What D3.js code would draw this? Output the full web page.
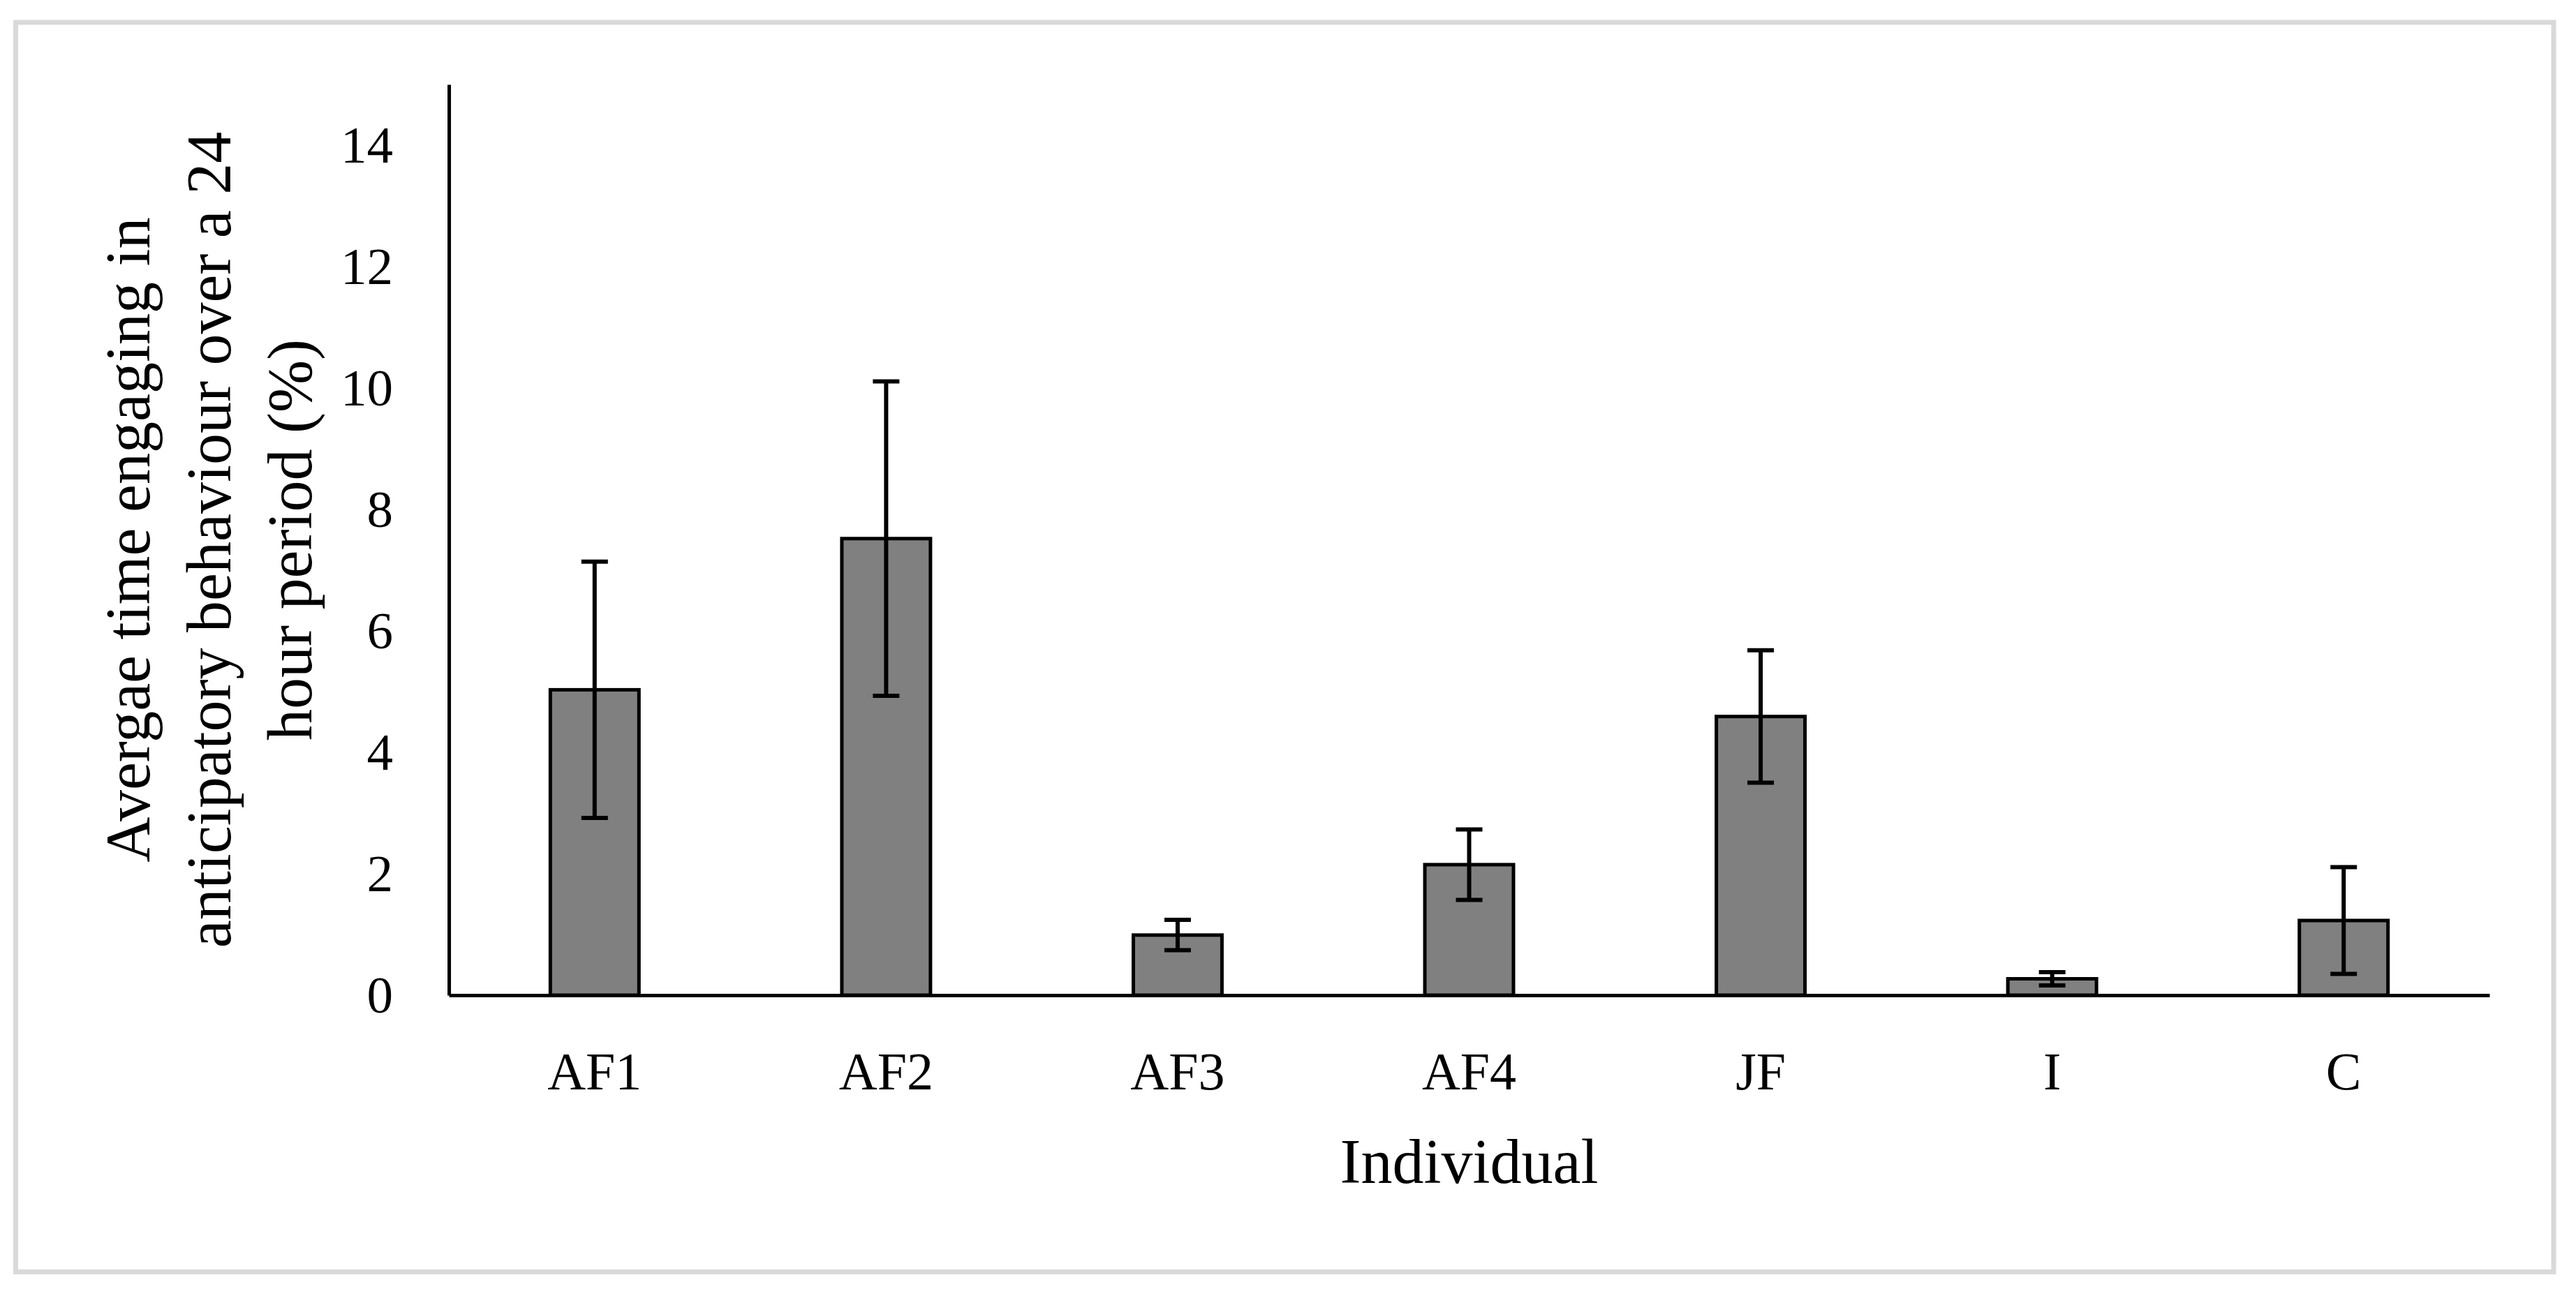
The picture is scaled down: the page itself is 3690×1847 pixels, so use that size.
<!DOCTYPE html>
<html>
<head>
<meta charset="utf-8">
<script src="https://cdn.jsdelivr.net/npm/d3@7"></script>
<style>
body { margin: 0; background: #ffffff; }
text { font-family: "Liberation Serif", "Times New Roman", serif; fill: #000000; }
</style>
</head>
<body>
<div class="chart-container"></div>
<script>
//bar chart with error bars, one bar per individual

var individuals = ["AF1", "AF2", "AF3", "AF4", "JF", "I", "C"]
var meanTime = [5.03, 7.52, 0.99, 2.15, 4.59, 0.27, 1.23]
var errTime = [2.11, 2.59, 0.25, 0.58, 1.09, 0.11, 0.88]
var yTicks = [0, 2, 4, 6, 8, 10, 12, 14]
var yTitleLines = ["Avergae time engaging in", "anticipatory behaviour over a 24", "hour period (%)"]
var xTitle = "Individual"

var totalWidth = 3690
var totalHeight = 1847

var margins = {
top: 121,
bottom: 1847 - 1426,
left: 643,
right: 3690 - 3566
}

var width = totalWidth - margins.left - margins.right
var height = totalHeight - margins.top - margins.bottom

var chart = d3.select(".chart-container")
.append("svg")
.attr("width", totalWidth)
.attr("height", totalHeight)

//grey frame round the figure
chart.append("rect")
.attr("x", 22.5)
.attr("y", 32)
.attr("width", 3658 - 22.5)
.attr("height", 1822.5 - 32)
.attr("fill", "#ffffff")
.attr("stroke", "#d9d9d9")
.attr("stroke-width", 7)

var g = chart.append("g")
.attr("transform", "translate(" + margins.left + "," + margins.top + ")")

var data = individuals.map(function(d, i){
return {name: d, mean: meanTime[i], err: errTime[i]}
})

var xScale = d3.scaleBand()
.domain(individuals)
.range([0, width])
.paddingInner(0.684)
.paddingOuter(0.342)

var yScale = d3.scaleLinear().domain([0, 15]).range([height, 0])

//bars
var bw = xScale.bandwidth()
g.selectAll("rect.bar")
.data(data)
.enter()
.append("rect")
.attr("class", "bar")
.attr("x", function(d){return xScale(d.name) + 2.5})
.attr("y", function(d){return yScale(d.mean)})
.attr("width", bw - 5)
.attr("height", function(d){return yScale(0) - yScale(d.mean)})
.attr("fill", "#808080")
.attr("stroke", "#000000")
.attr("stroke-width", 5)

//error bars
var capW = 38
var errG = g.selectAll("g.err")
.data(data)
.enter()
.append("g")
.attr("class", "err")
.attr("stroke", "#000000")
.attr("stroke-width", 6)

errG.append("line")
.attr("x1", function(d){return xScale(d.name) + bw / 2})
.attr("x2", function(d){return xScale(d.name) + bw / 2})
.attr("y1", function(d){return yScale(d.mean + d.err)})
.attr("y2", function(d){return yScale(d.mean - d.err)})

errG.append("line")
.attr("x1", function(d){return xScale(d.name) + bw / 2 - capW / 2})
.attr("x2", function(d){return xScale(d.name) + bw / 2 + capW / 2})
.attr("y1", function(d){return yScale(d.mean + d.err)})
.attr("y2", function(d){return yScale(d.mean + d.err)})

errG.append("line")
.attr("x1", function(d){return xScale(d.name) + bw / 2 - capW / 2})
.attr("x2", function(d){return xScale(d.name) + bw / 2 + capW / 2})
.attr("y1", function(d){return yScale(d.mean - d.err)})
.attr("y2", function(d){return yScale(d.mean - d.err)})

//axes
var yAxis = d3.axisLeft(yScale).tickValues(yTicks).tickSize(0).tickSizeOuter(0).tickPadding(80)
var xAxis = d3.axisBottom(xScale).tickSize(0).tickSizeOuter(0).tickPadding(81)

var yG = g.append("g").call(yAxis)
yG.select(".domain").attr("stroke", "#000000").attr("stroke-width", 5)
yG.selectAll("text").attr("font-size", 75).attr("font-family", "Liberation Serif").attr("fill", "#000000")

var xG = g.append("g")
.attr("transform", "translate(0," + height + ")")
.call(xAxis)
xG.select(".domain").attr("stroke", "#000000").attr("stroke-width", 5)
xG.selectAll("text").attr("font-size", 76).attr("font-family", "Liberation Serif").attr("fill", "#000000")

//axis titles
chart.append("text")
.attr("x", margins.left + width / 2)
.attr("y", 1695)
.attr("text-anchor", "middle")
.attr("font-size", 90)
.text(xTitle)

var yTitle = chart.append("text")
.attr("transform", "translate(214," + (margins.top + height / 2) + ") rotate(-90)")
.attr("text-anchor", "middle")
.attr("font-size", 90)

yTitle.selectAll("tspan")
.data(yTitleLines)
.enter()
.append("tspan")
.attr("x", 0)
.attr("y", function(d, i){return i * 116})
.text(function(d){return d})
</script>
</body>
</html>
